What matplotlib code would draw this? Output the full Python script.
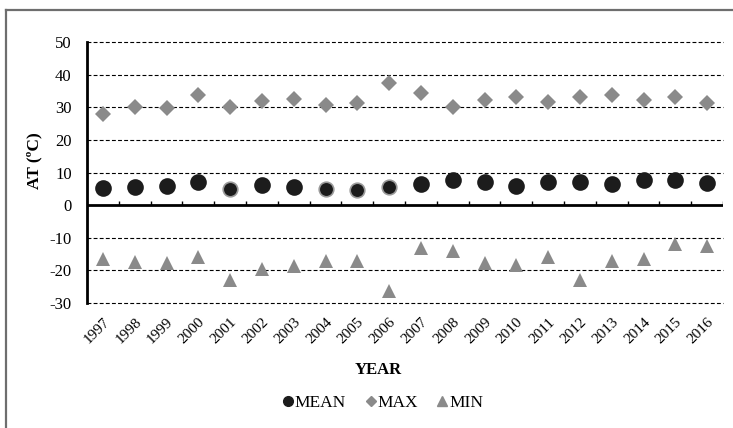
import numpy as np
import matplotlib
matplotlib.use('Agg')
import matplotlib.pyplot as plt
from matplotlib.lines import Line2D

plt.rcParams['font.family'] = ['Liberation Serif', 'DejaVu Serif']
plt.rcParams['axes.unicode_minus'] = False

# Data
years = ['1997', '1998', '1999', '2000', '2001', '2002', '2003', '2004', '2005', '2006',
         '2007', '2008', '2009', '2010', '2011', '2012', '2013', '2014', '2015', '2016']
at_mean = [5.1, 5.6, 5.9, 7.2, 4.9, 6.1, 5.6, 4.9, 4.6, 5.6,
           6.6, 7.7, 7.0, 5.9, 7.2, 7.0, 6.4, 7.7, 7.7, 6.8]
at_max = [27.8, 30.2, 29.7, 33.7, 30.0, 32.0, 32.4, 30.7, 31.2, 37.5,
          34.4, 30.2, 32.2, 33.0, 31.7, 33.2, 33.8, 32.2, 33.2, 31.2]
at_min = [-16.4, -17.4, -17.7, -15.9, -23.0, -19.7, -18.6, -17.1, -17.1, -26.3,
          -13.1, -14.1, -17.6, -18.4, -16.0, -23.0, -17.2, -16.4, -11.8, -12.5]
halo_years = ['2001', '2004', '2005', '2006']
y_ticks = [-30, -20, -10, 0, 10, 20, 30, 40, 50]

black = '#1c1c1c'
gray = '#8a8a8a'

W, H = 733, 428
fig = plt.figure(figsize=(W / 100, H / 100), dpi=100)
ax = fig.add_axes([87 / W, 1 - 303 / H, (723 - 87) / W, (303 - 42) / H])

x = np.arange(len(years))

# mean circles, a few drawn with a grey halo as in the source
for i, yr in enumerate(years):
    if yr in halo_years:
        ax.plot(x[i], at_mean[i], 'o', ms=10.5, color=black, mec='#9a9a9a', mew=1.2, zorder=3)
    else:
        ax.plot(x[i], at_mean[i], 'o', ms=12, color=black, mec=black, mew=0, zorder=3)
ax.plot(x, at_max, 'D', ms=8.5, color=gray, mew=0, ls='none', zorder=3)
ax.plot(x, at_min, '^', ms=10.5, color=gray, mew=0, ls='none', zorder=3)

ax.set_xlim(-0.5, len(years) - 0.5)
ax.set_ylim(-30, 50)
ax.set_yticks(y_ticks)
ax.set_yticklabels([str(v) for v in y_ticks], fontsize=12)
ax.set_xticks(x)
ax.set_xticklabels(years, rotation=45, ha='right', rotation_mode='anchor', fontsize=11)
ax.tick_params(axis='both', length=0)
ax.tick_params(axis='y', pad=11)
ax.tick_params(axis='x', pad=9)

# dashed gridlines (0 is covered by the solid axis line)
for v in y_ticks:
    if v != 0:
        ax.axhline(v, color='black', linestyle=(0, (3.5, 2)), linewidth=0.8,
                   clip_on=False, zorder=1)
for s in ['top', 'right', 'bottom']:
    ax.spines[s].set_visible(False)
ax.spines['left'].set_linewidth(2)
ax.spines['left'].set_color('black')
ax.spines['left'].set_zorder(2)

# horizontal axis through zero with category ticks
ax.axhline(0, color='black', linewidth=2, zorder=2)
ax.vlines(np.arange(0.5, len(years)), 0, 1.2, color='black', linewidth=1, zorder=2)

fig.text(34 / W, 1 - 161 / H, 'AT (ºC)', rotation=90, ha='center', va='center',
         fontsize=12.5, fontweight='bold')
fig.text(378 / W, 1 - 370 / H, 'YEAR', ha='center', va='center',
         fontsize=12, fontweight='bold')

handles = [Line2D([], [], marker='o', color=black, ls='none', ms=7),
           Line2D([], [], marker='D', color=gray, ls='none', ms=5),
           Line2D([], [], marker='^', color=gray, ls='none', ms=7)]
fig.legend(handles, ['MEAN', 'MAX', 'MIN'], loc='center', bbox_to_anchor=(383 / W, 1 - 403 / H),
           ncol=3, frameon=False, fontsize=12.5, handlelength=0.6, handletextpad=0.1,
           columnspacing=1.1)

# outer frame (only top and left edges visible in the source)
fig.add_artist(Line2D([5.5 / W, 1], [1 - 9.5 / H, 1 - 9.5 / H], color='#6e6e6e', lw=1.6))
fig.add_artist(Line2D([5.5 / W, 5.5 / W], [0, 1 - 9.5 / H], color='#6e6e6e', lw=1.6))

fig.savefig('out.png', dpi=100)
